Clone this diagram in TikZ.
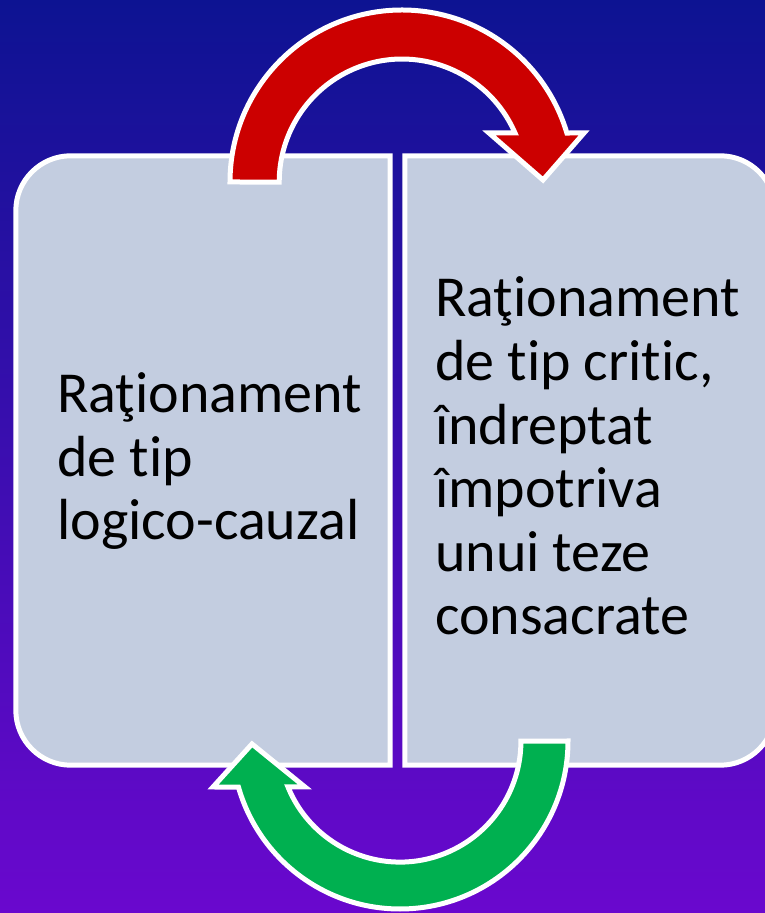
\documentclass[tikz,border=0pt]{standalone}
\usepackage{fontspec}
\setmainfont{Carlito}[Ligatures=NoCommon]
\usepackage{tikz}
\usetikzlibrary{positioning}
\definecolor{bgtop}{RGB}{13,19,146}
\definecolor{bgmid}{RGB}{27,22,190}
\definecolor{bgbot}{RGB}{106,8,206}
\definecolor{boxfill}{RGB}{195,205,224}
\definecolor{arrowred}{RGB}{204,0,0}
\definecolor{arrowgreen}{RGB}{0,176,80}
\tikzset{
  boxarea/.style={minimum width=#1, minimum height=609pt, inner sep=0pt},
  boxline/.style={draw=white, fill=boxfill, line width=5pt},
  boxtext/.style={anchor=base west, inner sep=0pt, align=left,
    font=\fontsize{58}{63.6}\selectfont},
  bendarrow/.style={draw=white, line width=5pt, line join=miter}
}

\begin{document}
\begin{tikzpicture}[x=1pt, y=1pt]
  \useasboundingbox (0,0) rectangle (765,913);
  \clip (0,0) rectangle (765,913);
  \shade[top color=bgtop, middle color=bgmid, bottom color=bgbot]
    (0,0) rectangle (765,913);

  % the two boxes
  \node[boxarea=374pt] (logic) at (203,452.5) {};
  \node[boxarea=370pt] (critic) at (590,452.5) {};
  \filldraw[boxline] (logic.north east) [rounded corners=55pt] -- (logic.north west)
    -- (logic.south west) [sharp corners] -- (logic.south east) -- cycle;
  \filldraw[boxline] (critic.north west) [rounded corners=55pt] -- (critic.north east)
    -- (critic.south east) [sharp corners] -- (critic.south west) -- cycle;

  % base = baseline of the last line
  \node[boxtext] (logicTxt) at (57,373) {Raţionament\\de tip\\logico-cauzal};
  \node[boxtext] (criticTxt) at (435,278)
    {Raţionament\\de tip critic,\\îndreptat\\împotriva\\unui teze\\consacrate};

  % red arc over the top, left to right
  \filldraw[bendarrow, fill=arrowred] (230,731)
    arc[start angle=180, end angle=16.55, radius=172]
    -- (584,780) -- (543,733) -- (489,780) -- (515,780)
    arc[start angle=23.5, end angle=180, radius=123] -- cycle;

  % green arc under the bottom, right to left
  \filldraw[bendarrow, fill=arrowgreen] (568,172)
    arc[start angle=0, end angle=-164.1, radius=168]
    -- (213,126) -- (252,169) -- (305,126) -- (288,126)
    arc[start angle=-157.7, end angle=0, radius=121] -- cycle;
\end{tikzpicture}
\end{document}
